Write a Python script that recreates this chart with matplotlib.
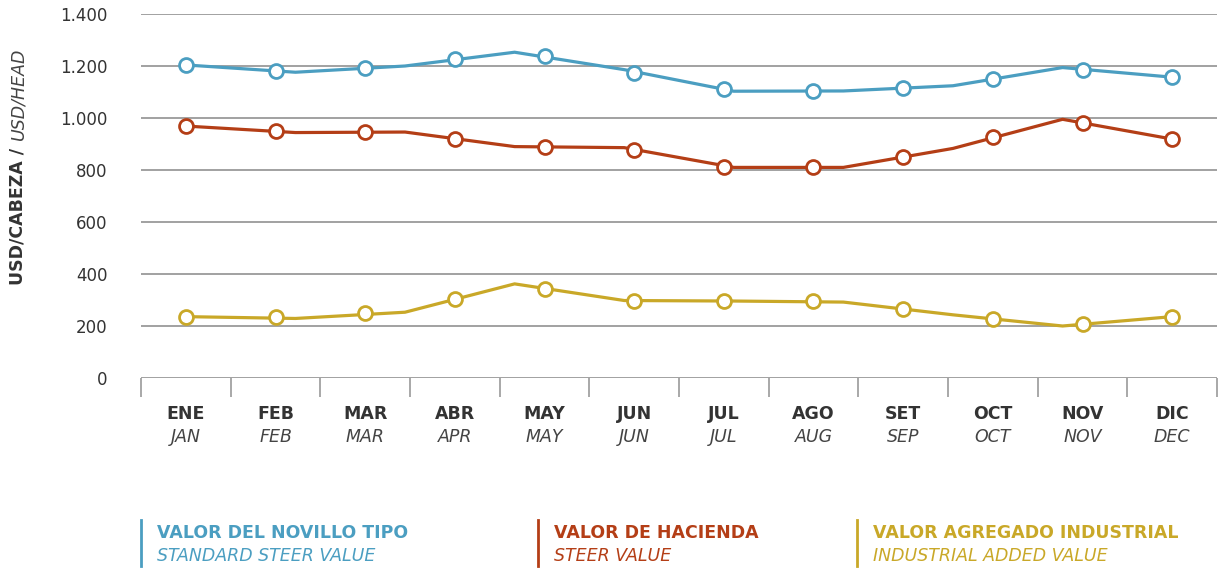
import matplotlib
matplotlib.use("Agg")
import matplotlib.pyplot as plt
import numpy as np

# Month labels (Spanish / English)
months_es = ["ENE", "FEB", "MAR", "ABR", "MAY", "JUN", "JUL", "AGO", "SET", "OCT", "NOV", "DIC"]
months_en = ["JAN", "FEB", "MAR", "APR", "MAY", "JUN", "JUL", "AUG", "SEP", "OCT", "NOV", "DEC"]

# Monthly marker values (USD/head)
novillo_monthly = [1204, 1181, 1191, 1227, 1237, 1175, 1110, 1104, 1117, 1149, 1185, 1157]
hacienda_monthly = [969, 951, 945, 919, 887, 878, 810, 810, 851, 926, 980, 919]
agregado_monthly = [236, 236, 249, 304, 344, 296, 296, 295, 264, 226, 208, 236]

# Line series (10 evenly spaced points over the year)
novillo_line = [1204, 1176, 1200, 1253, 1186, 1103, 1104, 1124, 1194, 1157]
hacienda_line = [969, 944, 946, 890, 886, 810, 810, 883, 995, 919]
agregado_line = [236, 229, 253, 362, 298, 296, 292, 243, 200, 236]

yticks = [0, 200, 400, 600, 800, 1000, 1200, 1400]
ytick_labels = ["0", "200", "400", "600", "800", "1.000", "1.200", "1.400"]

legend_es = ["VALOR DEL NOVILLO TIPO", "VALOR DE HACIENDA", "VALOR AGREGADO INDUSTRIAL"]
legend_en = ["STANDARD STEER VALUE", "STEER VALUE", "INDUSTRIAL ADDED VALUE"]

BLUE = "#4b9ec1"
RED = "#b43e16"
YELLOW = "#c9a828"
GRID = "#9a9a9a"
TEXT = "#333333"
FS = 12.5

plt.rcParams["font.family"] = ["DejaVu Sans"]

fig = plt.figure(figsize=(12.18, 5.68), dpi=100)
ax = fig.add_axes([141 / 1218, 1 - 378 / 568, 1076 / 1218, 364 / 568])

n_months = len(months_es)
x_month = np.arange(n_months) + 0.5
x_line = np.linspace(0.5, n_months - 0.5, len(novillo_line))

for yv in yticks:
    ax.axhline(yv, color=GRID, lw=1.3, zorder=1)

for line, monthly, color in [(novillo_line, novillo_monthly, BLUE),
                             (hacienda_line, hacienda_monthly, RED),
                             (agregado_line, agregado_monthly, YELLOW)]:
    ax.plot(x_line, line, color=color, lw=2.3, zorder=3)
    ax.plot(x_month, monthly, ls="none", marker="o", ms=10, mfc="white",
            mec=color, mew=2.0, zorder=4)

ax.set_xlim(0, n_months)
ax.set_ylim(0, 1400)
for s in ax.spines.values():
    s.set_visible(False)

ax.set_xticks(np.arange(n_months + 1))
ax.set_xticklabels([])
ax.tick_params(axis="x", length=14, width=1.2, color=GRID, direction="out")
ax.set_yticks(yticks)
ax.set_yticklabels(ytick_labels)
ax.tick_params(axis="y", length=0, pad=24, labelsize=12, labelcolor=TEXT)

for xm, es, en in zip(x_month, months_es, months_en):
    ax.text(xm, -0.099, es, transform=ax.get_xaxis_transform(), ha="center", va="center",
            fontsize=FS, fontweight="bold", color=TEXT)
    ax.text(xm, -0.162, en, transform=ax.get_xaxis_transform(), ha="center", va="center",
            fontsize=FS, style="italic", color="#444444")

# y axis label: bold Spanish + italic English, placed end to end
ylab_bold = fig.text(18 / 1218, 1 - 285 / 568, "USD/CABEZA /", rotation=90, rotation_mode="anchor",
                     ha="left", va="center", fontsize=FS, fontweight="bold", color=TEXT)
fig.canvas.draw()
bb = ylab_bold.get_window_extent()
ylab_ital = fig.text(18 / 1218, (bb.y1 + 8) / 568, "USD/HEAD", rotation=90, rotation_mode="anchor",
                     ha="left", va="center", fontsize=FS, style="italic", color="#444444")

# legend blocks
legend_x = [141, 538, 857]
for lx, es, en, color in zip(legend_x, legend_es, legend_en, [BLUE, RED, YELLOW]):
    fig.add_artist(plt.Line2D([lx / 1218, lx / 1218], [1 - 520 / 568, 1 - 566 / 568],
                              color=color, lw=2, transform=fig.transFigure))
    fig.text((lx + 16) / 1218, 1 - 533 / 568, es, ha="left", va="center",
             fontsize=FS, fontweight="bold", color=color)
    fig.text((lx + 16) / 1218, 1 - 556 / 568, en, ha="left", va="center",
             fontsize=FS, style="italic", color=color)

fig.savefig("out.png", dpi=100)
